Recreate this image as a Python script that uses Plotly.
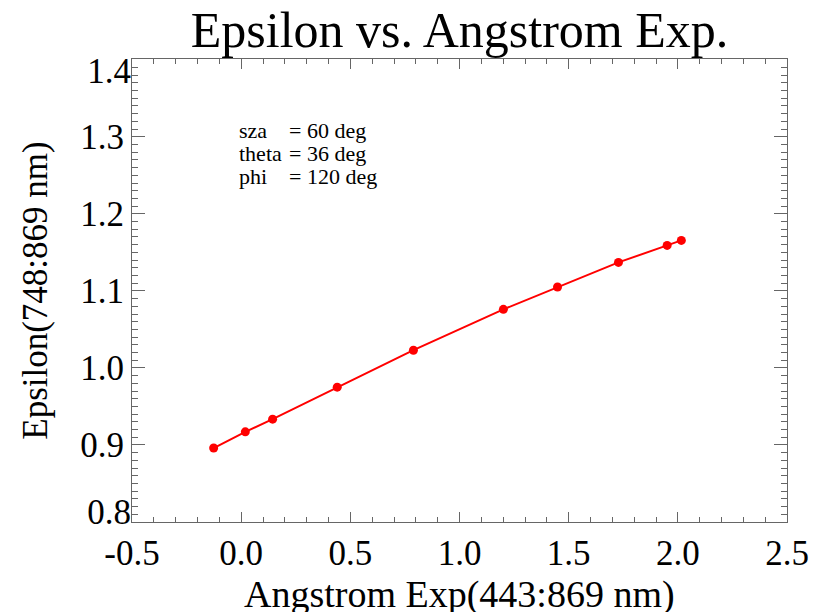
import plotly.graph_objects as go

angstrom = [-0.126, 0.019, 0.144, 0.440, 0.789, 1.201, 1.449, 1.728, 1.951, 2.016]
epsilon = [0.896, 0.917, 0.9335, 0.975, 1.023, 1.076, 1.105, 1.137, 1.159, 1.1655]
x_ticks = [-0.5, 0.0, 0.5, 1.0, 1.5, 2.0, 2.5]
x_labels = ["-0.5", "0.0", "0.5", "1.0", "1.5", "2.0", "2.5"]
y_ticks = [0.8, 0.9, 1.0, 1.1, 1.2, 1.3, 1.4]
y_labels = ["0.8", "0.9", "1.0", "1.1", "1.2", "1.3", "1.4"]
param_names = ["sza", "theta", "phi"]
param_values = ["= 60 deg", "= 36 deg", "= 120 deg"]
x_title = "Angstrom Exp(443:869 nm)"
y_title = "Epsilon(748:869 nm)"

FONT = "Liberation Serif"
AX = "#666666"
TICKSZ = 35
YR = [0.8, 1.401]

fig = go.Figure()
fig.add_trace(go.Scatter(
    x=angstrom, y=epsilon, mode="lines+markers",
    line=dict(color="#ff0000", width=2),
    marker=dict(color="#ff0000", size=9),
    showlegend=False,
))
# invisible carriers so the end-label axes get rendered
for ax in ["y2", "y3"]:
    fig.add_trace(go.Scatter(x=angstrom, y=epsilon, yaxis=ax, mode="none",
                             showlegend=False, hoverinfo="skip"))

for i, (n, v) in enumerate(zip(param_names, param_values)):
    yy = 1 - (131 + 23 * i - 59) / 463.5
    fig.add_annotation(xref="paper", yref="paper", x=(239 - 132) / 655, y=yy,
                       text=n, showarrow=False, xanchor="left", yanchor="middle", xshift=-2,
                       font=dict(family=FONT, size=22, color="black"))
    fig.add_annotation(xref="paper", yref="paper", x=(289 - 132) / 655, y=yy,
                       text=v, showarrow=False, xanchor="left", yanchor="middle", xshift=-2,
                       font=dict(family=FONT, size=22, color="black"))

# x-axis title (placed low, partly clipped like the reference)
fig.add_annotation(xref="paper", yref="paper", x=0.5, y=-(595 - 522.5) / 463.5,
                   text=x_title, showarrow=False, xanchor="center", yanchor="middle",
                   font=dict(family=FONT, size=38, color="black"))

inner = y_labels[1:-1]
inner_v = y_ticks[1:-1]

fig.update_layout(
    width=819, height=612,
    margin=dict(l=132, r=32, t=59, b=89.5),
    plot_bgcolor="white", paper_bgcolor="white",
    font=dict(family=FONT, color="black"),
    title=dict(text="Epsilon vs. Angstrom Exp.", x=0.5, xref="paper", y=1 - 29 / 612, yanchor="middle",
               font=dict(family=FONT, size=50, color="black")),
    xaxis=dict(range=[-0.5, 2.5], tickvals=x_ticks, ticktext=x_labels, automargin=False,
               showgrid=False, zeroline=False, showline=True, linecolor=AX, linewidth=1,
               mirror="ticks", ticks="inside", ticklen=10, tickcolor=AX, tickwidth=1,
               minor=dict(dtick=0.1, ticks="inside", ticklen=5, tickcolor=AX, tickwidth=1),
               tickfont=dict(family=FONT, size=TICKSZ, color="black")),
    yaxis=dict(range=YR, tickvals=inner_v, ticktext=inner, automargin=False,
               showgrid=False, zeroline=False, showline=True, linecolor=AX, linewidth=1,
               mirror="ticks", ticks="inside", ticklen=13, tickcolor=AX, tickwidth=1,
               minor=dict(dtick=0.01, ticks="inside", ticklen=6, tickcolor=AX, tickwidth=1),
               tickfont=dict(family=FONT, size=TICKSZ, color="black"),
               title=dict(text=y_title, font=dict(family=FONT, size=35, color="black"), standoff=22)),
    yaxis2=dict(range=YR, overlaying="y", anchor="x", side="left", tickvals=[y_ticks[0]], ticktext=[y_labels[0]],
                showgrid=False, zeroline=False, showline=False, ticks="", automargin=False,
                ticklabelshift=-10, tickfont=dict(family=FONT, size=TICKSZ, color="black")),
    yaxis3=dict(range=YR, overlaying="y", anchor="x", side="left", tickvals=[y_ticks[-1]], ticktext=[y_labels[-1]],
                showgrid=False, zeroline=False, showline=False, ticks="", automargin=False,
                ticklabelshift=11, tickfont=dict(family=FONT, size=TICKSZ, color="black")),
)

fig.write_html("out.html")
